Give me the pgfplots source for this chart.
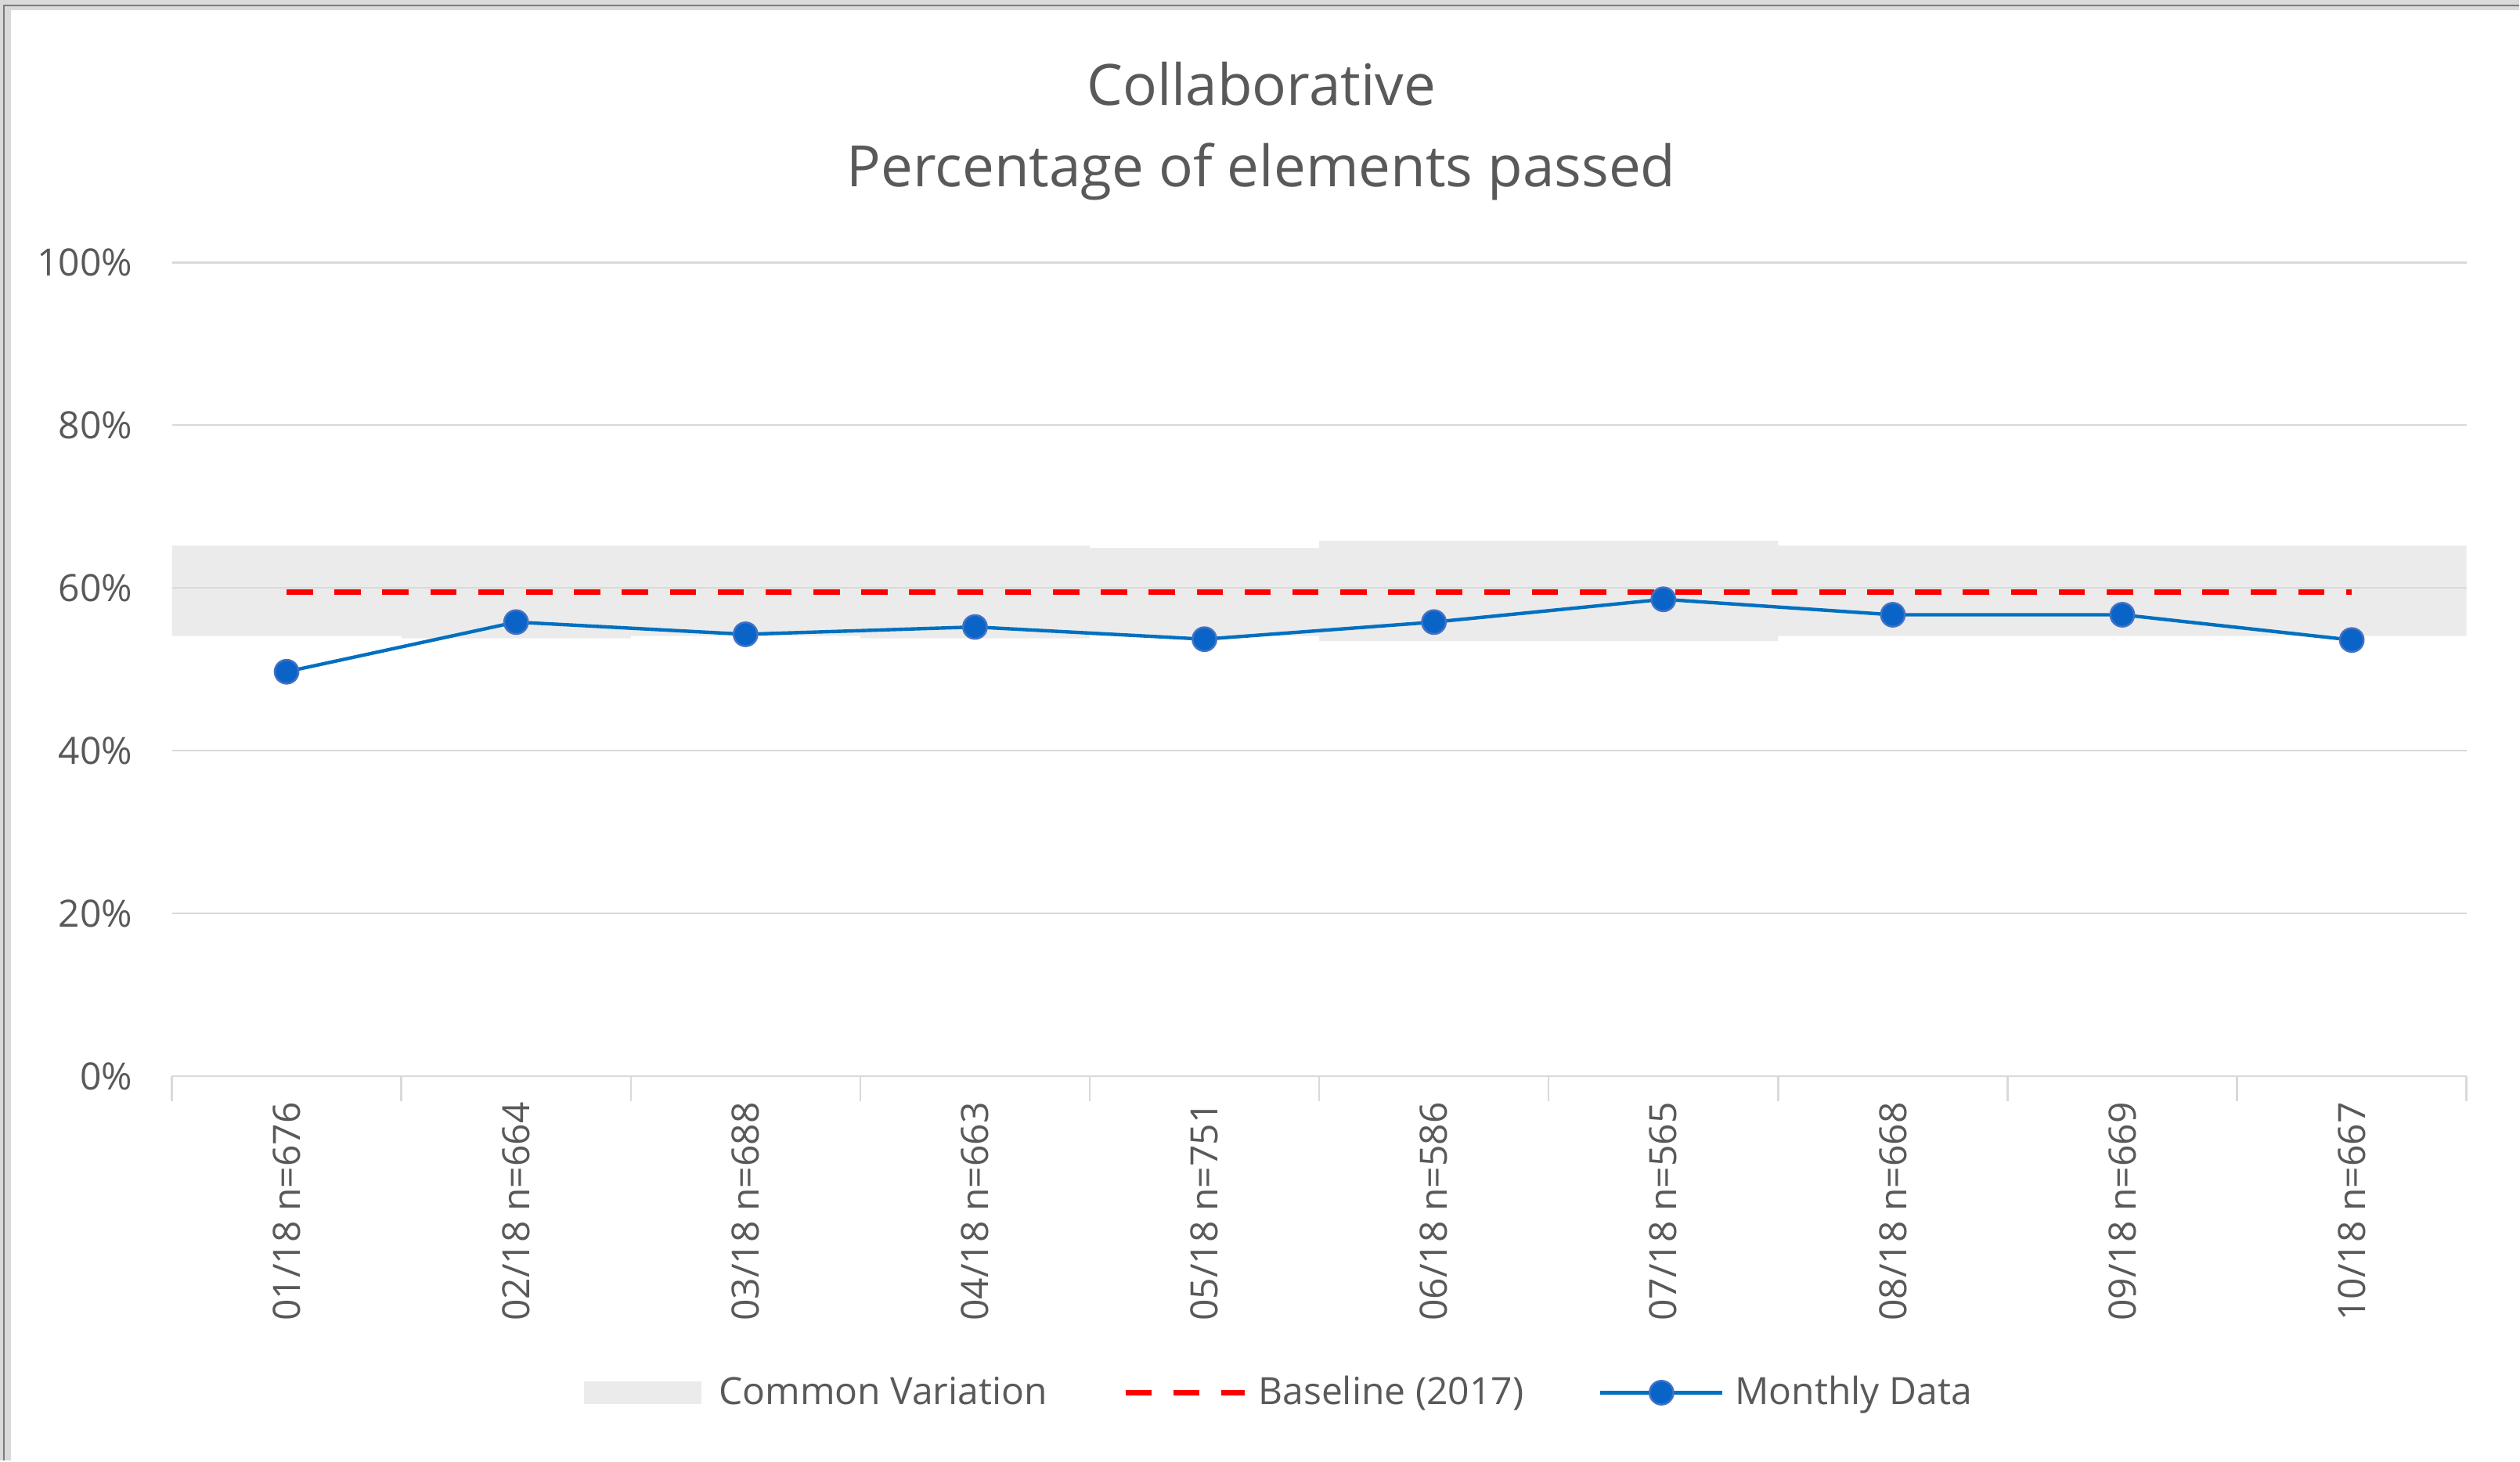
\documentclass[border=0pt]{standalone}
\usepackage{fontspec}
\setmainfont{Open Sans}
\usepackage{pgfplots}
\pgfplotsset{compat=1.18}
\definecolor{bandgray}{HTML}{EBEBEB}
\definecolor{gridgray}{HTML}{D9D9D9}
\definecolor{textgray}{HTML}{595959}
\definecolor{lineblue}{HTML}{0070C0}
\definecolor{markblue}{HTML}{0A64C8}
\definecolor{markedge}{HTML}{4472C4}
\definecolor{basered}{HTML}{FF0000}
\begin{document}
\begin{tikzpicture}
% outer chart border (left and top)
\fill[gridgray] (-54.9pt,-122.9pt) rectangle (-51.4pt,343.85pt);
\fill[gridgray] (-54.9pt,343.85pt) rectangle (749.8pt,340.6pt);
\draw[line width=0.6pt, textgray!80] (-53.6pt,-122.9pt) -- (-53.6pt,342.1pt) -- (749.8pt,342.1pt);
\begin{axis}[
  set layers,
  at={(0pt,0pt)}, anchor=south west,
  scale only axis,
  width=733pt, height=260pt,
  xmin=-0.5, xmax=9.5,
  ymin=0, ymax=100,
  axis x line*=bottom,
  axis y line*=left,
  y axis line style={draw=none},
  x axis line style={draw=gridgray, line width=0.6pt},
  ymajorgrids,
  grid style={draw=gridgray, line width=0.6pt},
  ytick={0,20,40,60,80,100},
  yticklabels={0\%,20\%,40\%,60\%,80\%,100\%},
  xtick={0,1,2,3,4,5,6,7,8,9},
  xticklabels={01/18 n=676,02/18 n=664,03/18 n=688,04/18 n=663,05/18 n=751,06/18 n=586,07/18 n=565,08/18 n=668,09/18 n=669,10/18 n=667},
  major tick length=0pt,
  tick label style={font=\fontsize{12}{14}\selectfont, text=textgray},
  yticklabel style={anchor=east, inner sep=0pt, xshift=-12.4pt},
  xticklabel style={rotate=90, anchor=east, inner sep=0pt, xshift=-8.2pt},
  extra x ticks={-0.5,0.5,1.5,2.5,3.5,4.5,5.5,6.5,7.5,8.5,9.5},
  extra x tick labels={},
  extra x tick style={major tick length=8pt, tick align=outside, grid=none, tick style={draw=gridgray, line width=0.6pt}},
  clip=false,
  legend style={at={(axis description cs:0.482,-0.389)}, anchor=center, draw=none, fill=none,
    legend columns=3, font=\fontsize{12}{14}\selectfont, text=textgray,
    nodes={inner sep=0pt, anchor=west},
    /tikz/every odd column/.style={column sep=3.5pt},
    /tikz/every even column/.style={column sep=24pt}},
]
\addplot[fill=bandgray, draw=none, on layer=axis background,
  legend image code/.code={\fill[bandgray] (0pt,-3.6pt) rectangle (37.6pt,3.6pt); \path (37.6pt,0pt) -- (39.6pt,0pt);}]
  coordinates {(-0.5,65.2) (3.5,65.2) (3.5,64.9) (4.5,64.9) (4.5,65.8) (6.5,65.8) (6.5,65.2) (9.5,65.2)
               (9.5,54.1) (6.5,54.1) (6.5,53.5) (4.5,53.5) (4.5,54.1) (3.5,54.1) (3.5,53.8) (2.5,53.8)
               (2.5,54.1) (1.5,54.1) (1.5,53.8) (0.5,53.8) (0.5,54.1) (-0.5,54.1)};
\addlegendentry{Common Variation}
\addplot[basered, line width=1.9pt, dash pattern=on 8.4pt off 6.9pt, no marks,
  legend image code/.code={\draw[basered, line width=1.9pt, dash pattern=on 8.4pt off 6.9pt] (0pt,0pt) -- (38pt,0pt);}]
  coordinates {(0,59.5) (1,59.5) (2,59.5) (3,59.5) (4,59.5) (5,59.5) (6,59.5) (7,59.5) (8,59.5) (9,59.5)};
\addlegendentry{Baseline (2017)}
\addplot[lineblue, line width=1.1pt, mark=*, mark size=3.8pt,
  mark options={fill=markblue, draw=markedge, line width=0.6pt},
  legend image code/.code={\draw[lineblue, line width=1.1pt] (0pt,0pt) -- (39pt,0pt);
     \fill[markblue, draw=markedge, line width=0.6pt] (19.5pt,0pt) circle (3.8pt);}]
  coordinates {(0,49.7) (1,55.8) (2,54.3) (3,55.2) (4,53.7) (5,55.8) (6,58.6) (7,56.7) (8,56.7) (9,53.6)};
\addlegendentry{Monthly Data}
\end{axis}
\node[text=textgray, font=\fontsize{18.2}{26}\selectfont, align=center, anchor=center] at (348pt,302pt)
  {Collaborative\\Percentage of elements passed};
\path (-54.9pt,-122.9pt) rectangle (749.8pt,343.85pt);
\end{tikzpicture}
\end{document}
